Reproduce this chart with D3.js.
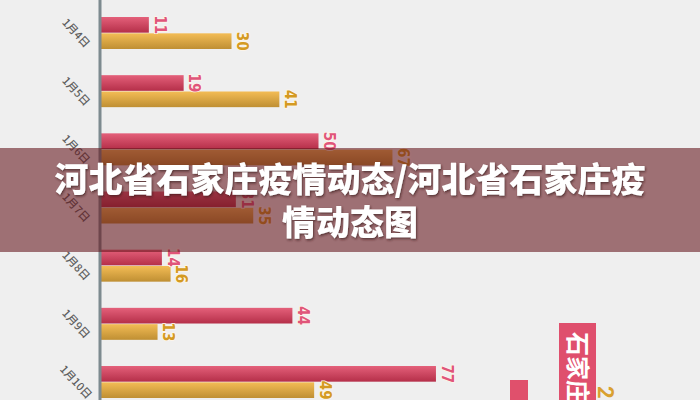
<!DOCTYPE html>
<html>
<head>
<meta charset="utf-8">
<script src="https://cdn.jsdelivr.net/npm/d3@7"></script>
<style>
  html, body { margin: 0; padding: 0; background: #efefef; }
  svg { display: block; }
</style>
</head>
<body>
<svg id="chart"></svg>
<script>
// chart data
const dates = ['1月4日', '1月5日', '1月6日', '1月7日', '1月8日', '1月9日', '1月10日']
const seriesNames = ['新增确诊', '新增无症状']
const confirmed = [11, 19, 50, 31, 14, 44, 77]
const asymptomatic = [30, 41, 67, 35, 16, 13, 49]
const titleLines = ['河北省石家庄疫情动态/河北省石家庄疫', '情动态图']
const sideLabel = '石家庄'

const width = 700
const height = 400

const svg = d3.select('#chart')
  .attr('width', width)
  .attr('height', height)

svg.append('rect')
  .attr('width', width)
  .attr('height', height)
  .attr('fill', '#efefef')

const defs = svg.append('defs')

function gradient(id, top, bottom){
  const g = defs.append('linearGradient')
    .attr('id', id)
    .attr('x1', 0).attr('y1', 0).attr('x2', 0).attr('y2', 1)
  g.append('stop').attr('offset', '0%').attr('stop-color', top)
  g.append('stop').attr('offset', '100%').attr('stop-color', bottom)
}
gradient('gRed', '#e4607a', '#b52f49')
gradient('gGold', '#f3bc55', '#bf8f33')

// soft shadow for the title
const shadow = defs.append('filter')
  .attr('id', 'titleShadow')
  .attr('x', '-5%').attr('y', '-20%')
  .attr('width', '110%').attr('height', '140%')
shadow.append('feDropShadow')
  .attr('dx', 1).attr('dy', 1.5)
  .attr('stdDeviation', 1.2)
  .attr('flood-color', '#3a1a1e')
  .attr('flood-opacity', 0.7)

const barFill = ['url(#gRed)', 'url(#gGold)']
const labelColor = ['#e0557a', '#d49a22']

// scales
const x = d3.scaleLinear()
  .domain([0, 80])
  .range([101, 449])

const y0 = d3.scaleBand()
  .domain(dates)
  .range([17, 398])
  .paddingInner(0.45)
  .paddingOuter(0)

const y1 = d3.scaleBand()
  .domain(seriesNames)
  .range([0, y0.bandwidth()])
  .paddingInner(0.04)

const rows = dates.map((d, i) => ({
  date: d,
  values: [
    {key: seriesNames[0], value: confirmed[i], s: 0},
    {key: seriesNames[1], value: asymptomatic[i], s: 1}
  ]
}))

// bars
const group = svg.append('g')
  .selectAll('g')
  .data(rows)
  .join('g')
    .attr('transform', d => 'translate(0,' + y0(d.date) + ')')

group.selectAll('rect')
  .data(d => d.values)
  .join('rect')
    .attr('x', x(0))
    .attr('y', d => y1(d.key))
    .attr('width', d => x(d.value) - x(0))
    .attr('height', y1.bandwidth())
    .attr('fill', d => barFill[d.s])

// value labels, turned to read top to bottom
group.selectAll('text')
  .data(d => d.values)
  .join('text')
    .attr('transform', d => 'translate(' + (x(d.value) + 4) + ',' + (y1(d.key) + y1.bandwidth() / 2) + ') rotate(90)')
    .attr('text-anchor', 'middle')
    .attr('dy', '-0.12em')
    .attr('font-family', '"Liberation Sans Narrow", "DejaVu Sans Condensed", sans-serif')
    .attr('font-weight', 'bold')
    .attr('font-size', 15)
    .attr('fill', d => labelColor[d.s])
    .attr('stroke', '#fff6e8')
    .attr('stroke-width', 1.5)
    .attr('paint-order', 'stroke')
    .text(d => d.value)

// category axis
const yAxis = svg.append('g')
  .attr('transform', 'translate(' + (x(0) - 1) + ',0)')
  .call(d3.axisLeft(y0).tickSize(0).tickPadding(0))

yAxis.select('.domain').remove()
yAxis.append('line')
  .attr('x1', 0).attr('x2', 0)
  .attr('y1', 0).attr('y2', height)
  .attr('stroke', '#7d8a8f')
  .attr('stroke-width', 3)

yAxis.selectAll('.tick text')
  .attr('x', 0).attr('y', 0).attr('dy', '0.35em')
  .attr('text-anchor', 'middle')
  .attr('transform', 'translate(-24,0) rotate(47)')
  .attr('font-family', '"Noto Sans CJK SC", sans-serif')
  .attr('font-size', 11)
  .attr('font-weight', 500)
  .attr('fill', '#5f5f5f')

// pieces of the next panel peeking in at bottom right
svg.append('rect')
  .attr('x', 510).attr('y', 380).attr('width', 18).attr('height', 20)
  .attr('fill', '#e0506c')
svg.append('rect')
  .attr('x', 559).attr('y', 323).attr('width', 37).attr('height', 77)
  .attr('fill', '#df4f6d')
svg.append('text')
  .attr('transform', 'translate(577,332) rotate(90)')
  .attr('font-family', '"Noto Sans CJK SC", sans-serif')
  .attr('font-weight', 'bold')
  .attr('font-size', 24)
  .attr('dy', '0.35em')
  .attr('fill', '#fff')
  .text(sideLabel)
svg.append('text')
  .attr('transform', 'translate(606,386) rotate(90)')
  .attr('font-family', 'Roboto, sans-serif')
  .attr('font-weight', 'bold')
  .attr('font-size', 22)
  .attr('dy', '0.35em')
  .attr('fill', '#d9a030')
  .text('2')

// title banner, see-through so the bars show under it
svg.append('rect')
  .attr('x', 0).attr('y', 148)
  .attr('width', width).attr('height', 104)
  .attr('fill', 'rgba(100,20,28,0.58)')

svg.append('g')
  .attr('font-family', '"Noto Sans CJK SC", sans-serif')
  .attr('font-weight', 900)
  .attr('font-size', 34)
  .attr('text-anchor', 'middle')
  .attr('fill', '#fff')
  .attr('filter', 'url(#titleShadow)')
  .selectAll('text')
  .data(titleLines)
  .join('text')
    .attr('x', width / 2)
    .attr('y', (d, i) => 192 + i * 43)
    .text(d => d)
</script>
</body>
</html>
